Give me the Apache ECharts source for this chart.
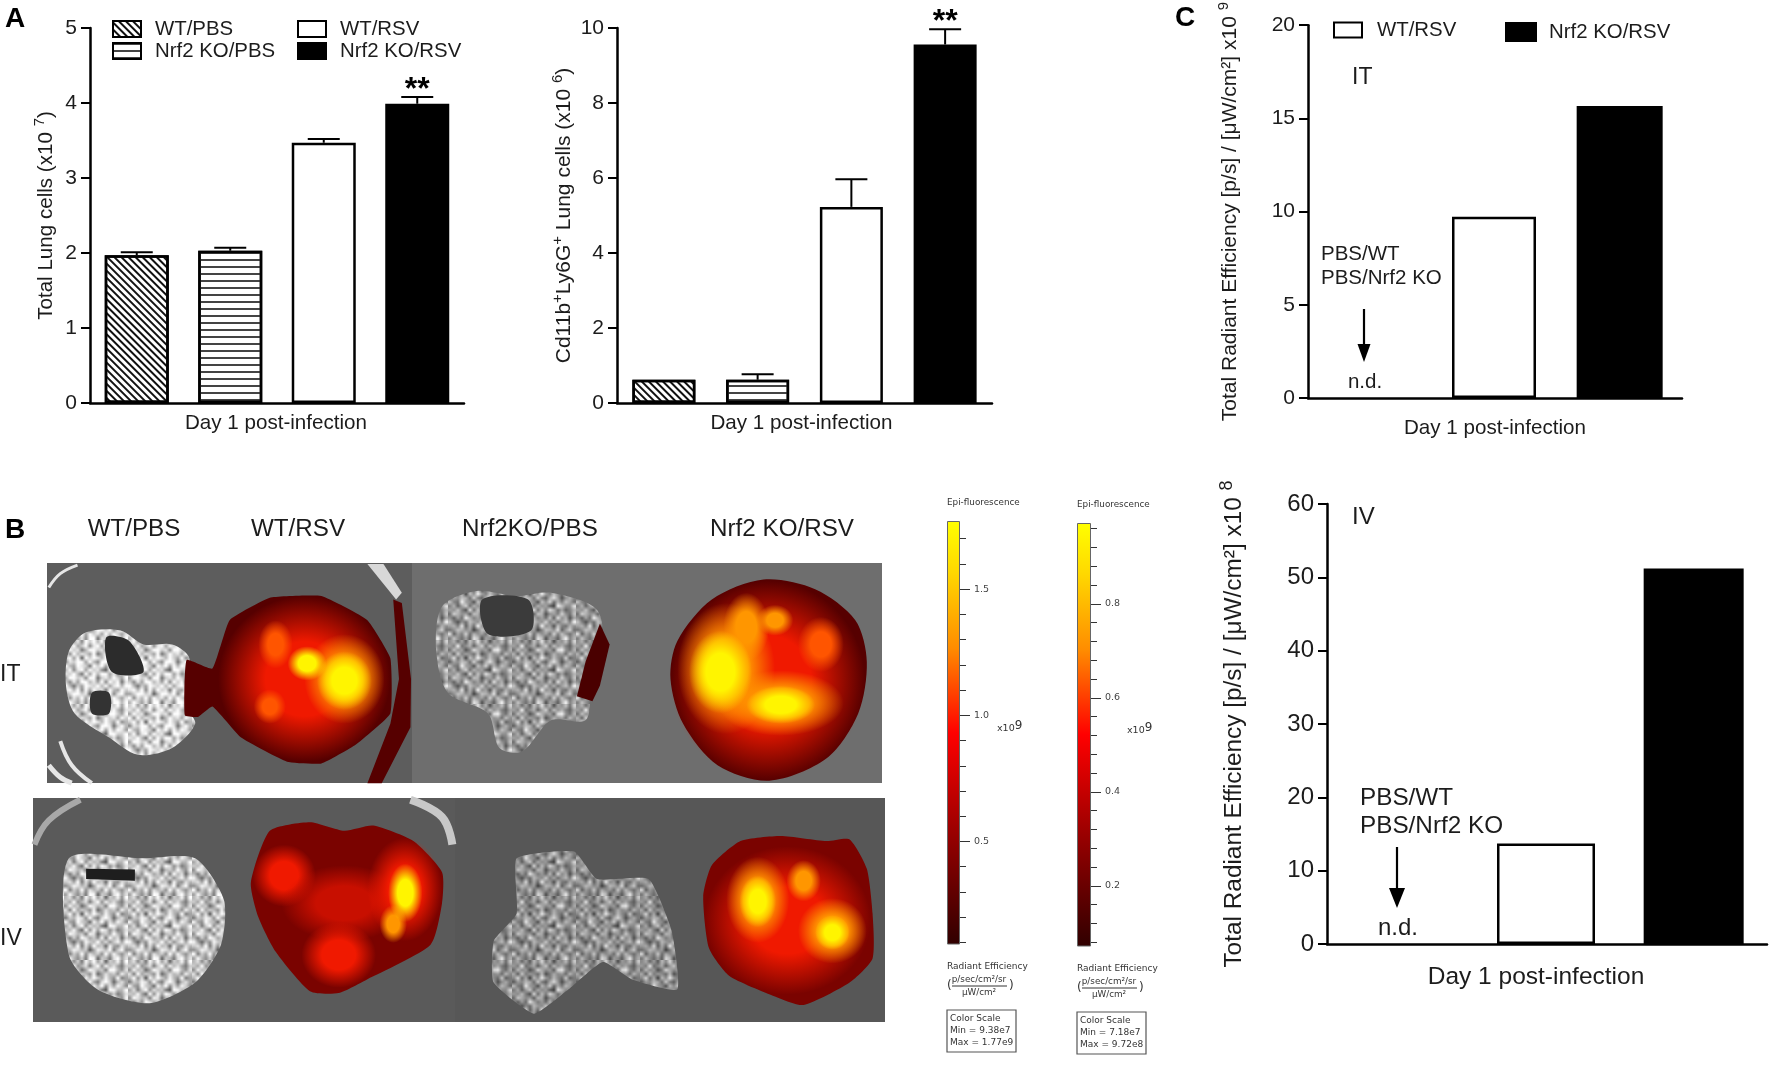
<!DOCTYPE html>
<html>
<head>
<meta charset="utf-8">
<title>Nrf2 KO RSV figure</title>
<script src="https://cdn.jsdelivr.net/npm/echarts@6/dist/echarts.min.js"></script>
<style>
  html, body { margin: 0; padding: 0; background: #fff; }
  #main { width: 1772px; height: 1070px; }
</style>
</head>
<body>
<div id="main"></div>
<script>
// panel A
const groupNames = ['WT/PBS', 'Nrf2 KO/PBS', 'WT/RSV', 'Nrf2 KO/RSV'];
const totalCells = [1.97, 2.03, 3.47, 3.99];
const totalCellsErr = [2.01, 2.07, 3.52, 4.08];
const totalCellsStars = ['', '', '', '**'];
const neutrophils = [0.62, 0.62, 5.23, 9.56];
const neutrophilsErr = [null, 0.77, 5.97, 9.97];
const neutrophilsStars = ['', '', '', '**'];
// panel C, the PBS groups were not detected
const radianceNames = ['PBS', 'WT/RSV', 'Nrf2 KO/RSV'];
const radianceIT = [null, 9.72, 15.67];
const radianceIV = [null, 13.7, 51.2];
// colour scales of panel B
const scale1Min = 0.0938, scale1Max = 1.77;
const scale1Ticks = [0.1, 0.2, 0.3, 0.4, 0.5, 0.6, 0.7, 0.8, 0.9, 1.0, 1.1, 1.2, 1.3, 1.4, 1.5, 1.6, 1.7];
const scale1Labels = [0.5, 1.0, 1.5];
const scale2Min = 0.0718, scale2Max = 0.972;
const scale2Ticks = [0.08, 0.12, 0.16, 0.2, 0.24, 0.28, 0.32, 0.36, 0.4, 0.44, 0.48, 0.52, 0.56, 0.6, 0.64, 0.68, 0.72, 0.76, 0.8, 0.84, 0.88, 0.92, 0.96];
const scale2Labels = [0.2, 0.4, 0.6, 0.8];

const FONT = '"Liberation Sans", Arial, sans-serif';
const INK = '#1c1c1c';

const myChart = echarts.init(document.getElementById('main'));

const hatchDiag = { symbol: 'rect', dashArrayX: [1, 0], dashArrayY: [2, 3], rotation: Math.PI / 4, color: '#111', symbolSize: 1 };
const hatchHoriz = { symbol: 'rect', dashArrayX: [1, 0], dashArrayY: [2, 5], rotation: 0, color: '#444', symbolSize: 1 };

function barStyle(name) {
  const style = { color: '#fff', borderColor: '#000', borderWidth: 2.5 };
  if (name === 'Nrf2 KO/RSV') style.color = '#000';
  if (name === 'WT/PBS') style.decal = hatchDiag;
  if (name === 'Nrf2 KO/PBS') style.decal = hatchHoriz;
  return style;
}

function makeRich(size) {
  return {
    n: { fontSize: size, fontFamily: FONT, color: INK, lineHeight: size + 8 },
    sup: { fontSize: Math.round(size * 0.72), fontFamily: FONT, color: INK, lineHeight: size + 8, verticalAlign: 'top', padding: [0, 0, Math.round(size * 0.5), 0] }
  };
}

function makeX(gridIndex, cats, fontSize, nameGap, padRight) {
  return {
    type: 'category', gridIndex, data: cats,
    axisLine: { lineStyle: { color: '#000', width: 2.5 } },
    axisTick: { show: false }, axisLabel: { show: false },
    name: 'Day 1 post-infection', nameLocation: 'middle', nameGap,
    nameTextStyle: { fontSize, fontFamily: FONT, color: INK, padding: [0, padRight, 0, 0] }
  };
}

function makeY(gridIndex, max, interval, name, fontSize, nameSize, nameGap) {
  return {
    type: 'value', gridIndex, min: 0, max, interval,
    splitLine: { show: false },
    axisLine: { show: true, lineStyle: { color: '#000', width: 2.5 } },
    axisTick: { show: true, length: 9, lineStyle: { color: '#000', width: 2 } },
    axisLabel: { fontSize, fontFamily: FONT, color: INK, margin: 13 },
    name, nameLocation: 'middle', nameGap,
    nameTextStyle: { rich: makeRich(nameSize), fontSize: nameSize, color: INK }
  };
}

function errorSeries(gridIndex, tops, bases, stars) {
  const rows = [];
  tops.forEach((t, i) => { if (t !== null) rows.push([i, t, bases[i]]); });
  return {
    type: 'custom', name: 'err' + gridIndex, xAxisIndex: gridIndex, yAxisIndex: gridIndex,
    data: rows, encode: { x: 0, y: 1 }, clip: false, z: 1,
    renderItem(params, api) {
      const i = api.value(0);
      const hi = api.coord([i, api.value(1)]);
      const lo = api.coord([i, api.value(2)]);
      const stroke = { stroke: '#000', lineWidth: 2 };
      const children = [
        { type: 'line', shape: { x1: hi[0], y1: hi[1], x2: lo[0], y2: lo[1] }, style: stroke },
        { type: 'line', shape: { x1: hi[0] - 16, y1: hi[1], x2: hi[0] + 16, y2: hi[1] }, style: stroke }
      ];
      if (stars[i]) {
        children.push({
          type: 'text',
          style: { text: stars[i], x: hi[0], y: hi[1] + 9, align: 'center', verticalAlign: 'bottom', fontSize: 32, fontWeight: 'bold', fontFamily: FONT, fill: '#000' }
        });
      }
      return { type: 'group', children };
    }
  };
}

// one series per group so the legends can pick them up by name
function barSeries(gridIndex, names, values, width) {
  return names.map((name, i) => ({
    type: 'bar', name, xAxisIndex: gridIndex, yAxisIndex: gridIndex,
    stack: 'g' + gridIndex, barWidth: width, z: 2, silent: true,
    data: values.map((v, j) => (j === i ? v : null)),
    itemStyle: barStyle(name)
  }));
}

function colorbarAxes(gridIndex, min, max, ticks, labels) {
  const base = {
    type: 'value', gridIndex, min, max, position: 'right',
    splitLine: { show: false }, axisLine: { show: false }
  };
  return [
    Object.assign({}, base, {
      axisTick: { show: true, length: 6, customValues: ticks, lineStyle: { color: '#333', width: 1 } },
      axisLabel: { show: false }
    }),
    Object.assign({}, base, {
      axisTick: { show: true, length: 10, customValues: labels, lineStyle: { color: '#333', width: 1 } },
      axisLabel: { show: true, customValues: labels, margin: 14, fontSize: 9.5, fontFamily: '"DejaVu Sans", sans-serif', color: '#444',
        formatter: v => (labels.length === 3 ? v.toFixed(1) : String(v)) }
    })
  ];
}

const heatGradient = new echarts.graphic.LinearGradient(0, 0, 0, 1, [
  { offset: 0, color: '#ffff00' },
  { offset: 0.12, color: '#ffd800' },
  { offset: 0.3, color: '#ff8c00' },
  { offset: 0.5, color: '#ff0000' },
  { offset: 0.72, color: '#a00000' },
  { offset: 1, color: '#300000' }
]);

// ---------- graphics of panel B (the photographs are only sketched) ----------
// outlines were measured on a crop of the photo row, px/py turn them into page pixels
const px = z => z / 1.742;
const py = z => 499.5 + z / 2.898;
const pts = list => list.map(p => [px(p[0]), py(p[1])]);

// hand typed grey levels for the speckled lung tissue
const speckleRows = [
  '9b7a6c9e8b5a9c7d',
  'a8f79b6ad7c9b86a',
  '7c9a58eb9a6ef97b',
  'b6d8a97c58b9a7c9',
  '9e7b4c9fa8c97d68',
  '6a9cb7d86bea59b8',
  'c87fa95c9d7b8ca7',
  '8b6ad7b9a64fc99e',
  'a9c85e7c8eb7a68b',
  '7db9a6cb59a8d97c',
  '96a7fb8a7c6e9b5a',
  'c8597ca9d8b7ac8f',
  'ab8e6b7f9a5c87b9',
  '79cb9a48cb9e6ad7',
  'e6a8d7b9a7d8c97a',
  '8c97a6ec5a96bf8b'
];

function speckle(gain) {
  const small = document.createElement('canvas');
  small.width = small.height = 16;
  const ctx = small.getContext('2d');
  for (let r = 0; r < 16; r++) {
    for (let c = 0; c < 16; c++) {
      const v = Math.min(255, Math.round(parseInt(speckleRows[r][c], 16) * 17 * gain));
      ctx.fillStyle = 'rgb(' + v + ',' + v + ',' + v + ')';
      ctx.fillRect(c, r, 1, 1);
    }
  }
  const cv = document.createElement('canvas');
  cv.width = cv.height = 64;
  const big = cv.getContext('2d');
  big.imageSmoothingEnabled = true;
  big.drawImage(small, 0, 0, 64, 64);
  return { image: cv, repeat: 'repeat' };
}

function spot(zx, zy, rx, ry, color, plateau) {
  const x = px(zx), y = py(zy), h = ry / 2.898, w = rx / 1.742;
  const p = plateau === undefined ? 0.45 : plateau;
  return {
    type: 'circle', x, y, scaleX: w / h, shape: { cx: 0, cy: 0, r: h },
    style: { fill: new echarts.graphic.RadialGradient(0.5, 0.5, 0.5, [
      { offset: 0, color }, { offset: p, color }, { offset: 1, color: color.replace(/,[^,]*\)$/, ',0)') }
    ]) }
  };
}
const YEL = 'rgba(255,245,0,1)', ORG = 'rgba(255,150,0,1)', RED = 'rgba(240,25,0,1)', HOT = 'rgba(255,85,0,1)';

function poly(list, fill, smooth) {
  return { type: 'polygon', shape: { points: pts(list), smooth: smooth || 0 }, style: { fill } };
}

function rim(list, width, color) {
  return { type: 'polyline', shape: { points: pts(list), smooth: 0.4 }, style: { stroke: color || '#e6e6e6', lineWidth: width, fill: null } };
}

const photos = [
  { type: 'rect', shape: { x: 47, y: 563, width: 365, height: 220 }, style: { fill: '#5d5d5d' } },
  { type: 'rect', shape: { x: 412, y: 563, width: 470, height: 220 }, style: { fill: '#6e6e6e' } },
  { type: 'rect', shape: { x: 33, y: 798, width: 422, height: 224 }, style: { fill: '#5a5a5a' } },
  { type: 'rect', shape: { x: 455, y: 798, width: 430, height: 224 }, style: { fill: '#575757' } },
  // dish rims
  rim([[135,190],[105,215],[85,255]], 3),
  rim([[105,700],[125,770],[160,822]], 4),
  rim([[85,770],[105,805],[125,822]], 5),
  { type: 'polygon', shape: { points: pts([[640,187],[668,187],[700,270],[690,290]]) }, style: { fill: '#d8d8d8' } },
  rim([[60,1000],[85,930],[140,870]], 6, '#a8a8a8'),
  rim([[715,870],[770,920],[788,1000]], 8, '#c8c8c8'),
  // top row lungs
  poly([[120,440],[150,385],[210,380],[250,420],[300,420],[330,460],[325,600],[340,650],[300,720],[240,740],[190,690],[130,620],[115,540]], speckle(1.35), 0.3),
  poly([[185,400],[225,410],[250,500],[195,500]], '#2c2c2c', 0.3),
  poly([[160,560],[190,560],[190,620],[160,620]], '#333', 0.3),
  poly([[770,310],[830,265],[900,280],[960,270],[1040,320],[1050,450],[1030,560],[1020,640],[960,640],[910,730],[870,720],[850,620],[780,560],[760,440]], speckle(0.95), 0.3),
  poly([[840,290],[920,290],[925,380],[850,390]], '#3b3b3b', 0.3),
  poly([[1045,360],[1062,420],[1045,540],[1032,585],[1005,570],[1020,470]], '#4a0000'),
  // WT/RSV IT
  poly([[325,465],[370,490],[400,350],[470,285],[560,280],[640,350],[680,460],[680,620],[620,710],[560,765],[500,760],[420,690],[370,600],[345,630],[322,625]], '#560000', 0.12),
  poly([[685,290],[700,300],[716,520],[715,660],[665,822],[640,822],[680,650],[695,520]], '#560000'),
  spot(530, 520, 150, 240, RED),
  spot(480, 420, 30, 70, HOT),
  spot(470, 600, 28, 50, HOT),
  spot(600, 520, 70, 130, ORG),
  spot(535, 475, 34, 50, YEL),
  spot(600, 525, 48, 85, YEL),
  // Nrf2 KO/RSV IT
  poly([[1180,410],[1240,290],[1330,232],[1420,260],[1490,350],[1510,470],[1495,620],[1440,750],[1340,815],[1250,770],[1190,650],[1168,520]], '#560000', 0.3),
  spot(1337, 525, 170, 290, RED),
  spot(1265, 490, 85, 190, ORG),
  spot(1360, 590, 110, 95, ORG),
  spot(1300, 370, 40, 100, ORG),
  spot(1350, 350, 32, 45, ORG),
  spot(1430, 420, 40, 80, HOT),
  spot(1255, 500, 55, 120, YEL),
  spot(1360, 595, 60, 55, YEL),
  // bottom row lungs
  poly([[120,1040],[250,1040],[340,1040],[390,1160],[385,1290],[340,1400],[260,1460],[170,1420],[120,1320]], speckle(1.2), 0.25),
  poly([[150,1070],[235,1072],[235,1105],[150,1100]], '#1e1e1e'),
  poly([[900,1040],[1000,1020],[1040,1100],[1130,1100],[1170,1250],[1180,1420],[1100,1390],[1050,1340],[990,1420],[930,1490],[860,1400],[860,1280],[900,1200]], speckle(0.9), 0.15),
  // WT/RSV IV
  poly([[470,960],[540,935],[600,960],[650,945],[720,990],[770,1080],[770,1170],[750,1290],[640,1390],[590,1430],[540,1425],[480,1310],[450,1210],[437,1110]], '#7a0300', 0.2),
  spot(495, 1090, 55, 90, RED),
  spot(600, 1170, 110, 110, 'rgba(200,15,0,1)'),
  spot(590, 1320, 65, 95, RED),
  spot(705, 1130, 65, 150, RED),
  spot(685, 1230, 24, 55, ORG),
  spot(706, 1140, 30, 85, YEL),
  // Nrf2 KO/RSV IV
  poly([[1290,990],[1360,975],[1440,990],[1480,985],[1510,1070],[1520,1200],[1520,1330],[1480,1400],[1400,1465],[1350,1440],[1270,1380],[1235,1300],[1225,1150],[1240,1060]], '#7a0300', 0.2),
  spot(1372, 1220, 145, 215, RED),
  spot(1320, 1160, 55, 125, ORG),
  spot(1400, 1105, 30, 60, ORG),
  spot(1450, 1250, 60, 95, ORG),
  spot(1320, 1165, 32, 75, YEL),
  spot(1450, 1255, 30, 50, YEL)
];

function label(text, x, y, size, extra) {
  return {
    type: 'text', x, y,
    style: Object.assign({ text, fontSize: size, fontFamily: FONT, fill: INK, align: 'left', verticalAlign: 'middle' }, extra || {})
  };
}

function arrow(x, y1, y2, head, width) {
  return [
    { type: 'line', shape: { x1: x, y1, x2: x, y2: y2 - head + 2 }, style: { stroke: '#000', lineWidth: 2.2 } },
    { type: 'polygon', shape: { points: [[x - width, y2 - head], [x + width, y2 - head], [x, y2]] }, style: { fill: '#000' } }
  ];
}

const DJV = '"DejaVu Sans", sans-serif';
function scaleNotes(x, dy, minText, maxText, xTen) {
  const small = { fontFamily: DJV, fill: '#333' };
  return [
    label('Epi-fluorescence', x, 503 + dy, 8.8, small),
    label('Radiant Efficiency', x, 967 + dy, 9, small),
    label('(', x, 986 + dy, 12, small),
    label('p/sec/cm²/sr', x + 32, 980 + dy, 8.8, Object.assign({ align: 'center' }, small)),
    { type: 'line', shape: { x1: x + 5, y1: 986 + dy, x2: x + 60, y2: 986 + dy }, style: { stroke: '#333', lineWidth: 1 } },
    label('μW/cm²', x + 32, 993 + dy, 8.8, Object.assign({ align: 'center' }, small)),
    label(')', x + 62, 986 + dy, 12, small),
    { type: 'rect', shape: { x, y: 1010 + dy, width: 69, height: 42 }, style: { fill: '#fff', stroke: '#555', lineWidth: 1.2 } },
    label('Color Scale', x + 3, 1018.5 + dy, 9, small),
    label(minText, x + 3, 1031 + dy, 9, small),
    label(maxText, x + 3, 1043 + dy, 9, small),
    { type: 'text', x: xTen, y: 729 + dy, style: { text: '{a|x10}{b|9}', verticalAlign: 'middle', rich: {
      a: { fontSize: 9.5, fontFamily: DJV, fill: '#333', lineHeight: 18 },
      b: { fontSize: 12, fontFamily: DJV, fill: '#333', lineHeight: 18, verticalAlign: 'top' }
    } } }
  ];
}

const graphicItems = [].concat(
  photos,
  [
    label('A', 5, 19, 28, { fontWeight: 'bold', fill: '#000' }),
    label('B', 5, 530, 28, { fontWeight: 'bold', fill: '#000' }),
    label('C', 1175, 18, 28, { fontWeight: 'bold', fill: '#000' }),
    label('WT/PBS', 134, 529, 24.2, { align: 'center' }),
    label('WT/RSV', 298, 529, 24.2, { align: 'center' }),
    label('Nrf2KO/PBS', 530, 529, 24.2, { align: 'center' }),
    label('Nrf2 KO/RSV', 782, 529, 24.2, { align: 'center' }),
    label('IT', 0, 675, 23),
    label('IV', 0, 939, 23),
    label('IT', 1352, 78, 23),
    label('PBS/WT', 1321, 254, 20.5),
    label('PBS/Nrf2 KO', 1321, 278, 20.5),
    label('n.d.', 1365, 382, 20.5, { align: 'center' }),
    label('IV', 1352, 517, 24),
    label('PBS/WT', 1360, 798, 24.3),
    label('PBS/Nrf2 KO', 1360, 826, 24.3),
    label('n.d.', 1398, 928, 24, { align: 'center' })
  ],
  arrow(1364, 309, 362, 18, 6.5),
  arrow(1397, 847, 908, 20, 8),
  scaleNotes(947, 0, 'Min = 9.38e7', 'Max = 1.77e9', 997),
  scaleNotes(1077, 2, 'Min = 7.18e7', 'Max = 9.72e8', 1127)
);

const legendText = { fontSize: 20.4, fontFamily: FONT, color: INK };

const option = {
  animation: false,
  backgroundColor: '#fff',
  textStyle: { fontFamily: FONT },
  legend: [
    { left: 112, top: 19, padding: 0, orient: 'vertical', data: ['WT/PBS', 'Nrf2 KO/PBS'], icon: 'rect', itemWidth: 28, itemHeight: 16, itemGap: 2, selectedMode: false,
      textStyle: Object.assign({ padding: [0, 0, 0, 9] }, legendText) },
    { left: 297, top: 19, padding: 0, orient: 'vertical', data: ['WT/RSV', 'Nrf2 KO/RSV'], icon: 'rect', itemWidth: 28, itemHeight: 16, itemGap: 2, selectedMode: false,
      textStyle: Object.assign({ padding: [0, 0, 0, 9] }, legendText) },
    { left: 1333, top: 20, padding: 0, data: ['WT/RSV'], icon: 'rect', itemWidth: 28, itemHeight: 15, selectedMode: false,
      textStyle: Object.assign({ padding: [0, 0, 0, 10] }, legendText) },
    { left: 1505, top: 22, padding: 0, data: ['Nrf2 KO/RSV'], icon: 'rect', itemWidth: 30, itemHeight: 18, selectedMode: false,
      textStyle: Object.assign({ padding: [0, 0, 0, 8] }, legendText) }
  ],
  grid: [
    { left: 90, top: 28, width: 374, height: 375 },
    { left: 617, top: 28, width: 375, height: 375 },
    { left: 1308, top: 24, width: 374, height: 374 },
    { left: 1327, top: 504, width: 440, height: 440 },
    { left: 947, top: 521, width: 13, height: 423 },
    { left: 1077, top: 523, width: 14, height: 423 }
  ],
  xAxis: [
    makeX(0, groupNames, 20.6, 10, 2),
    makeX(1, groupNames, 20.6, 10, 6),
    makeX(2, radianceNames, 20.6, 20, 0),
    makeX(3, radianceNames, 24.5, 21, 22),
    { type: 'category', gridIndex: 4, data: ['s'], show: false },
    { type: 'category', gridIndex: 5, data: ['s'], show: false }
  ],
  yAxis: [
    makeY(0, 5, 1, '{n|Total Lung cells (x10 }{sup|7}{n|)}', 21, 20.6, 29),
    makeY(1, 10, 2, '{n|Cd11b}{sup|+}{n|Ly6G}{sup|+}{n| Lung cells (x10 }{sup|6}{n|)}', 21, 21, 38),
    makeY(2, 20, 5, '{n|Total Radiant Efficiency [p/s] / [μW/cm²] x10 }{sup|9}', 21, 21, 63),
    makeY(3, 60, 10, '{n|Total Radiant Efficiency [p/s] / [μW/cm²] x10 }{sup|8}', 24, 24.4, 77)
  ].concat(
    colorbarAxes(4, scale1Min, scale1Max, scale1Ticks, scale1Labels),
    colorbarAxes(5, scale2Min, scale2Max, scale2Ticks, scale2Labels)
  ),
  series: [].concat(
    barSeries(0, groupNames, totalCells, 64),
    errorSeries(0, totalCellsErr, totalCells, totalCellsStars),
    barSeries(1, groupNames, neutrophils, 63),
    errorSeries(1, neutrophilsErr, neutrophils, neutrophilsStars),
    [
      { type: 'bar', name: 'WT/RSV', xAxisIndex: 2, yAxisIndex: 2, barWidth: 84, barGap: '-100%', data: [radianceIT[0], radianceIT[1], null], itemStyle: barStyle('WT/RSV') },
      { type: 'bar', name: 'Nrf2 KO/RSV', xAxisIndex: 2, yAxisIndex: 2, barWidth: 86, barGap: '-100%', data: [null, null, radianceIT[2]], itemStyle: barStyle('Nrf2 KO/RSV') },
      { type: 'bar', name: 'WT/RSV', xAxisIndex: 3, yAxisIndex: 3, barWidth: 98, barGap: '-100%', data: [radianceIV[0], radianceIV[1], null], itemStyle: barStyle('WT/RSV') },
      { type: 'bar', name: 'Nrf2 KO/RSV', xAxisIndex: 3, yAxisIndex: 3, barWidth: 100, barGap: '-100%', data: [null, null, radianceIV[2]], itemStyle: barStyle('Nrf2 KO/RSV') },
      { type: 'bar', name: 'scale1', xAxisIndex: 4, yAxisIndex: 4, barWidth: '100%', data: [scale1Max], itemStyle: { color: heatGradient, borderColor: '#666', borderWidth: 1 } },
      { type: 'bar', name: 'scale2', xAxisIndex: 5, yAxisIndex: 6, barWidth: '100%', data: [scale2Max], itemStyle: { color: heatGradient, borderColor: '#666', borderWidth: 1 } },
      // keeps the second axis of each colour bar alive
      { type: 'line', name: 'axis1', xAxisIndex: 4, yAxisIndex: 5, data: [], showSymbol: false },
      { type: 'line', name: 'axis2', xAxisIndex: 5, yAxisIndex: 7, data: [], showSymbol: false }
    ]
  ),
  graphic: { elements: graphicItems }
};

myChart.setOption(option);
</script>
</body>
</html>
